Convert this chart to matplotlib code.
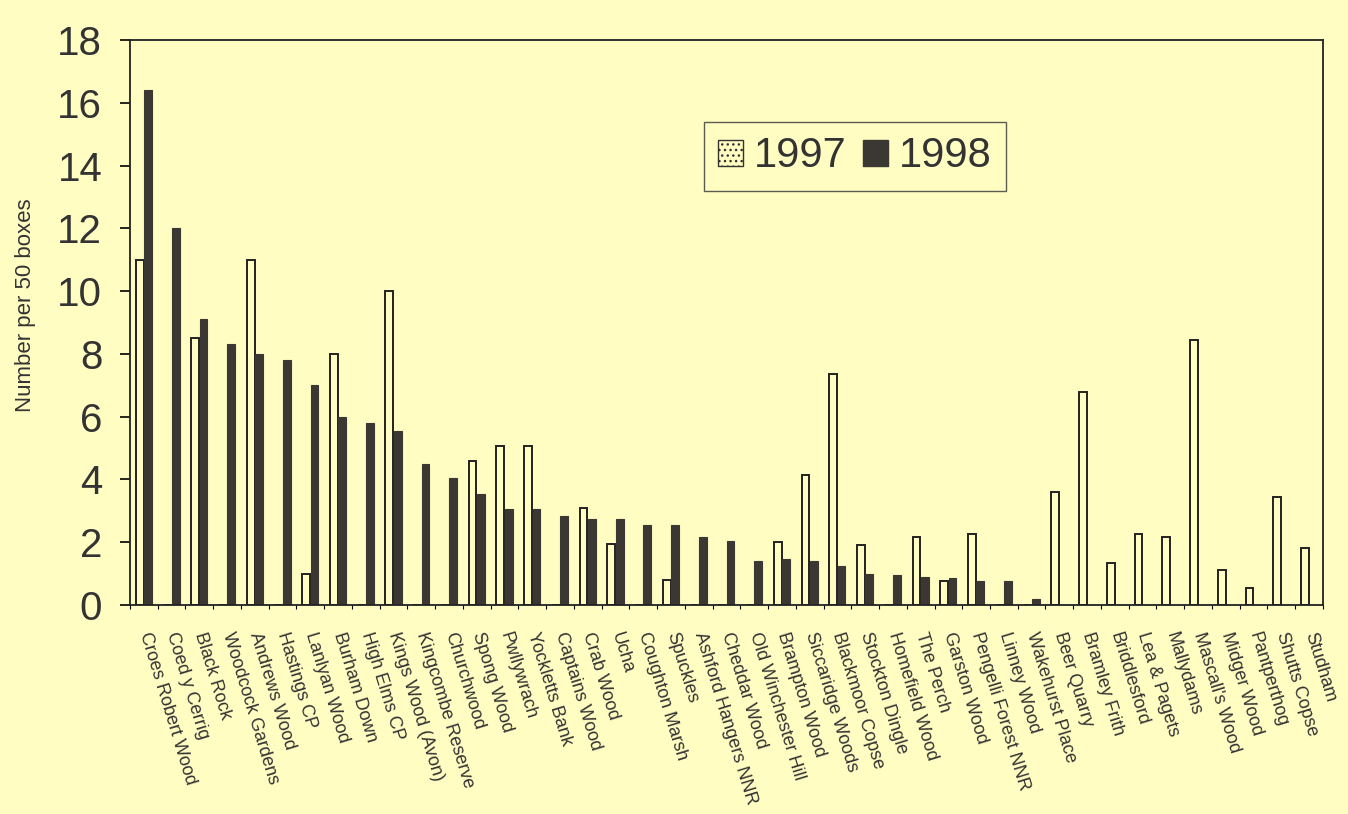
import numpy as np
import matplotlib
matplotlib.use('Agg')
import matplotlib.pyplot as plt
from matplotlib.patches import Patch

plt.rcParams['font.family'] = ['Liberation Sans', 'DejaVu Sans']

# sites, in the order shown on the chart
sites = ['Croes Robert Wood', 'Coed y Cerrig', 'Black Rock', 'Woodcock Gardens',
         'Andrews Wood', 'Hastings CP', 'Lanlyan Wood', 'Burham Down',
         'High Elms CP', 'Kings Wood (Avon)', 'Kingcombe Reserve', 'Churchwood',
         'Spong Wood', 'Pwllywrach', 'Yockletts Bank', 'Captains Wood',
         'Crab Wood', 'Ucha', 'Coughton Marsh', 'Spuckles',
         'Ashford Hangers NNR', 'Cheddar Wood', 'Old Winchester Hill',
         'Brampton Wood', 'Siccaridge Woods', 'Blackmoor Copse',
         'Stockton Dingle', 'Homefield Wood', 'The Perch', 'Garston Wood',
         'Pengelli Forest NNR', 'Linney Wood', 'Wakehurst Place', 'Beer Quarry',
         'Bramley Frith', 'Briddlesford', 'Lea & Pagets', 'Mallydams',
         "Mascall's Wood", 'Midger Wood', 'Pantperthog', 'Shutts Copse',
         'Studham']

# number per 50 boxes
y1997 = [11.0, 0, 8.5, 0, 11.0, 0, 1.0, 8.0, 0, 10.0, 0, 0,
         4.6, 5.05, 5.05, 0, 3.1, 1.95, 0, 0.8, 0, 0, 0, 2.0, 4.15,
         7.35, 1.9, 0, 2.15, 0.75, 2.25, 0, 0, 3.6, 6.8, 1.35, 2.25,
         2.15, 8.45, 1.1, 0.55, 3.45, 1.8]
y1998 = [16.4, 12.0, 9.1, 8.3, 8.0, 7.8, 7.0, 6.0, 5.8, 5.55, 4.5, 4.05,
         3.55, 3.05, 3.05, 2.85, 2.75, 2.75, 2.55, 2.55, 2.15, 2.05, 1.4,
         1.45, 1.4, 1.25, 1.0, 0.95, 0.9, 0.85, 0.75, 0.75, 0.2, 0, 0,
         0, 0, 0, 0, 0, 0, 0, 0]

bg = '#fffdc2'
dark = '#3b3833'
txt = '#333333'

fig = plt.figure(figsize=(13.48, 8.14), dpi=100)
fig.patch.set_facecolor(bg)
ax = fig.add_axes([0.0964, 0.2568, 0.885, 0.6941])
ax.set_facecolor(bg)

x = np.arange(len(sites))
w = 0.28
ax.bar(x - 0.15, y1997, w, color=bg, edgecolor='#222222', linewidth=1.4)
ax.bar(x + 0.15, y1998, w, color=dark, edgecolor=dark, linewidth=0.8)

ax.set_xlim(-0.5, len(sites) - 0.5)
ax.set_ylim(0, 18)
ax.set_yticks(np.arange(0, 19, 2))
ax.tick_params(axis='y', labelsize=29, length=7, width=1.2, direction='out',
               pad=13, labelcolor=txt)

ax.set_xticks(x)
ax.set_xticklabels(sites, rotation=-73, ha='left', va='center',
                   rotation_mode='anchor', fontsize=13, color=txt)
ax.tick_params(axis='x', length=0, pad=20)
ax.set_xticks(np.arange(-0.5, len(sites), 1), minor=True)
ax.tick_params(axis='x', which='minor', length=3, width=0.8)

for s in ax.spines.values():
    s.set_color('#222222')
    s.set_linewidth(1.3)

ax.set_ylabel('Number per 50 boxes', fontsize=16, color=txt)
ax.yaxis.set_label_coords(-0.079, 0.53)

handles = [Patch(facecolor=bg, edgecolor='#333333', hatch='...'),
           Patch(facecolor=dark, edgecolor=dark)]
leg = ax.legend(handles, ['1997', '1998'], ncol=2, loc='upper left',
                bbox_to_anchor=(0.481, 0.855), borderaxespad=0, fontsize=30,
                frameon=True, fancybox=False, edgecolor='#333333', facecolor=bg,
                handlelength=0.6, handleheight=0.6, handletextpad=0.25,
                columnspacing=0.4, borderpad=0.35, labelcolor=txt)
leg.get_frame().set_linewidth(1.0)

fig.savefig('out.png', dpi=100, facecolor=bg)
